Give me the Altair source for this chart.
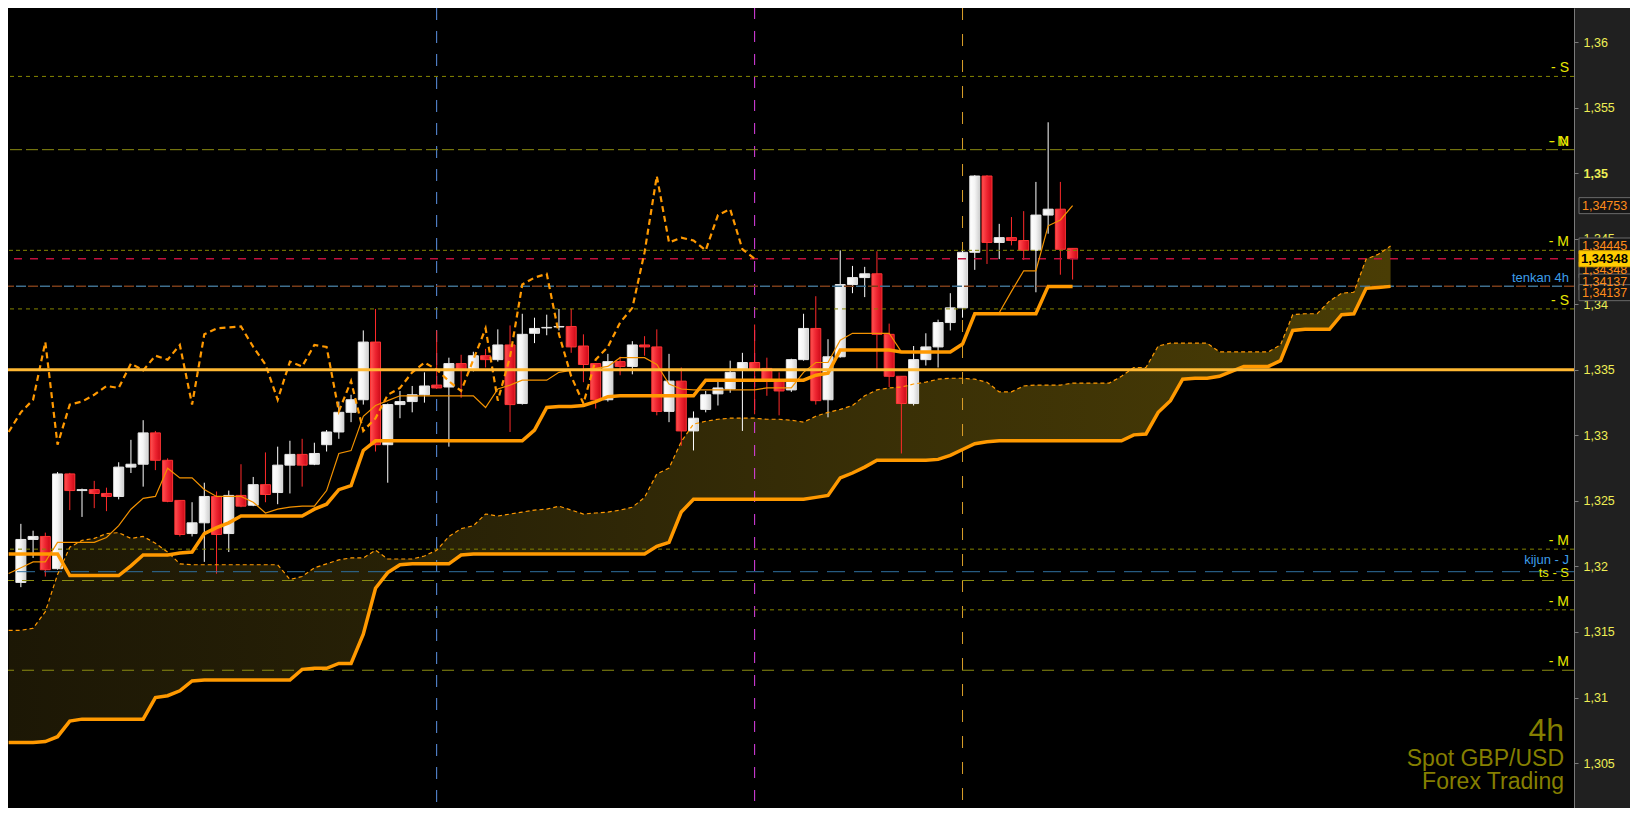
import altair as alt
import pandas as pd

W, H = 1566, 800
FONT = "Liberation Sans"

# ---------------- 4h GBP/USD candles (index 0..86) ----------------
candle_open = [1.31878, 1.32206, 1.32229, 1.31983, 1.32706, 1.32579, 1.32586, 1.32557, 1.32534, 1.32758,
               1.32780, 1.33019, 1.32810, 1.32504, 1.32251, 1.32333, 1.32534, 1.32251, 1.32542, 1.32467,
               1.32624, 1.32564, 1.32773, 1.32855, 1.32780, 1.32929, 1.33026, 1.33176, 1.33272, 1.33712,
               1.32929, 1.33235, 1.33258, 1.33310, 1.33384, 1.33369, 1.33548, 1.33496, 1.33608, 1.33578,
               1.33690, 1.33243, 1.33779, 1.33820, 1.33827, 1.33831, 1.33682, 1.33548, 1.33272, 1.33563,
               1.33526, 1.33690, 1.33675, 1.33183, 1.33414, 1.33034, 1.33198, 1.33317, 1.33354, 1.33503,
               1.33556, 1.33511, 1.33414, 1.33347, 1.33578, 1.33816, 1.33272, 1.33600, 1.34151, 1.34204,
               1.34233, 1.33771, 1.33451, 1.33243, 1.33578, 1.33675, 1.33861, 1.33973, 1.34397, 1.34979,
               1.34472, 1.34509, 1.34487, 1.34412, 1.34681, 1.34726, 1.34427]
candle_high = [1.32325, 1.32273, 1.32258, 1.32720, 1.32714, 1.32594, 1.32653, 1.32601, 1.32795, 1.32966,
               1.33116, 1.33034, 1.32825, 1.32504, 1.32490, 1.32639, 1.32572, 1.32579, 1.32780, 1.32683,
               1.32870, 1.32914, 1.32959, 1.32974, 1.32944, 1.33041, 1.33258, 1.33310, 1.33801, 1.33965,
               1.33243, 1.33339, 1.33377, 1.33481, 1.33801, 1.33593, 1.33615, 1.33638, 1.33660, 1.33809,
               1.33839, 1.33928, 1.33898, 1.33921, 1.33965, 1.33965, 1.33771, 1.33548, 1.33622, 1.33600,
               1.33719, 1.33757, 1.33809, 1.33622, 1.33518, 1.33183, 1.33339, 1.33414, 1.33570, 1.33630,
               1.33846, 1.33593, 1.33481, 1.33585, 1.33928, 1.34062, 1.33734, 1.34412, 1.34293, 1.34286,
               1.34405, 1.33853, 1.33451, 1.33682, 1.33779, 1.33883, 1.34085, 1.34412, 1.34986, 1.34986,
               1.34614, 1.34666, 1.34711, 1.34934, 1.35389, 1.34934, 1.34427]
candle_low = [1.31842, 1.32065, 1.31923, 1.31975, 1.32430, 1.32378, 1.32445, 1.32422, 1.32512, 1.32713,
              1.32609, 1.32735, 1.32490, 1.32229, 1.32229, 1.32035, 1.31945, 1.32110, 1.32452, 1.32460,
              1.32490, 1.32475, 1.32557, 1.32609, 1.32773, 1.32877, 1.32974, 1.33101, 1.33235, 1.32877,
              1.32639, 1.33131, 1.33176, 1.33250, 1.33354, 1.32914, 1.33287, 1.33488, 1.33518, 1.33563,
              1.33026, 1.33235, 1.33704, 1.33764, 1.33801, 1.33630, 1.33406, 1.33205, 1.33258, 1.33459,
              1.33466, 1.33608, 1.33153, 1.33101, 1.32921, 1.32885, 1.33176, 1.33228, 1.33325, 1.33034,
              1.33161, 1.33302, 1.33153, 1.33332, 1.33570, 1.33235, 1.33138, 1.33593, 1.34085, 1.34055,
              1.33503, 1.33369, 1.32862, 1.33228, 1.33533, 1.33518, 1.33801, 1.33898, 1.34263, 1.34308,
              1.34345, 1.34450, 1.34338, 1.34092, 1.34539, 1.34226, 1.34189]
candle_close = [1.32206, 1.32229, 1.31975, 1.32706, 1.32579, 1.32586, 1.32557, 1.32534, 1.32758, 1.32780,
                1.33019, 1.32810, 1.32497, 1.32244, 1.32333, 1.32534, 1.32244, 1.32542, 1.32460, 1.32624,
                1.32549, 1.32773, 1.32855, 1.32773, 1.32862, 1.33026, 1.33176, 1.33272, 1.33712, 1.32929,
                1.33235, 1.33258, 1.33310, 1.33377, 1.33362, 1.33548, 1.33496, 1.33608, 1.33578, 1.33690,
                1.33235, 1.33771, 1.33816, 1.33824, 1.33831, 1.33675, 1.33541, 1.33272, 1.33563, 1.33526,
                1.33690, 1.33675, 1.33183, 1.33414, 1.33034, 1.33131, 1.33310, 1.33362, 1.33481, 1.33556,
                1.33503, 1.33414, 1.33339, 1.33578, 1.33816, 1.33265, 1.33600, 1.34151, 1.34204, 1.34233,
                1.33771, 1.33451, 1.33243, 1.33578, 1.33675, 1.33861, 1.33973, 1.34397, 1.34979, 1.34472,
                1.34509, 1.34487, 1.34412, 1.34681, 1.34726, 1.34420, 1.34348]

# ---------------- Ichimoku lines (index -1..86) ----------------
tenkan = [1.31946, 1.31990, 1.32035, 1.32035, 1.32184, 1.32184, 1.32184, 1.32184, 1.32221, 1.32311,
          1.32437, 1.32520, 1.32534, 1.32750, 1.32676, 1.32676, 1.32587, 1.32534, 1.32534, 1.32534,
          1.32490, 1.32408, 1.32437, 1.32452, 1.32460, 1.32460, 1.32579, 1.32862, 1.32884, 1.33146,
          1.33228, 1.33265, 1.33302, 1.33302, 1.33302, 1.33302, 1.33302, 1.33302, 1.33302, 1.33213,
          1.33354, 1.33384, 1.33421, 1.33421, 1.33421, 1.33481, 1.33496, 1.33503, 1.33511, 1.33526,
          1.33593, 1.33593, 1.33593, 1.33541, 1.33392, 1.33354, 1.33347, 1.33347, 1.33347, 1.33347,
          1.33347, 1.33347, 1.33362, 1.33362, 1.33362, 1.33481, 1.33556, 1.33556, 1.33727, 1.33779,
          1.33779, 1.33779, 1.33779, 1.33637, 1.33637, 1.33637, 1.33637, 1.33637, 1.33697, 1.33928,
          1.33928, 1.33936, 1.34099, 1.34256, 1.34256, 1.34599, 1.34644, 1.34753]
kijun = ([1.32095] * 5 + [1.31931] * 5 + [1.32005, 1.32087, 1.32087, 1.32087, 1.32102, 1.32110,
         1.32251, 1.32296, 1.32333] + [1.32385] * 6 + [1.32437, 1.32475, 1.32586, 1.32616, 1.32885]
         + [1.32959] * 13 + [1.33041, 1.33213, 1.33220, 1.33220, 1.33228, 1.33258, 1.33295]
         + [1.33302] * 7 + [1.33421] * 9 + [1.33459, 1.33474] + [1.33652] * 5 + [1.33637] * 5
         + [1.33697] + [1.33928] * 6 + [1.34137] * 3)

# ---------------- Kumo (index -1..112) ----------------
span_a = ([1.31513, 1.31513, 1.31528, 1.31655, 1.31938, 1.32147, 1.32199, 1.32214, 1.32251, 1.32258,
           1.32214, 1.32229, 1.32177, 1.32110, 1.32020] + [1.32013] * 8 +
          [1.31901, 1.31923, 1.31990, 1.32020, 1.32050, 1.32065, 1.32065, 1.32124, 1.32057, 1.32057,
           1.32057, 1.32080, 1.32124, 1.32229, 1.32288, 1.32311, 1.32400, 1.32385, 1.32400, 1.32415,
           1.32430, 1.32437, 1.32460, 1.32430, 1.32400, 1.32408, 1.32415, 1.32430, 1.32452, 1.32527,
           1.32706, 1.32750, 1.32952, 1.33086, 1.33108, 1.33123, 1.33131, 1.33131, 1.33131, 1.33123,
           1.33123, 1.33116, 1.33101, 1.33146, 1.33176, 1.33198, 1.33228, 1.33302, 1.33347, 1.33362,
           1.33369, 1.33392, 1.33406, 1.33429, 1.33436, 1.33436, 1.33429, 1.33406, 1.33332, 1.33332,
           1.33377, 1.33384, 1.33384, 1.33384, 1.33399, 1.33399, 1.33399, 1.33399, 1.33451, 1.33518,
           1.33518, 1.33682, 1.33704, 1.33704, 1.33704, 1.33704, 1.33637, 1.33637, 1.33637, 1.33637,
           1.33637, 1.33690, 1.33921, 1.33928, 1.33928, 1.34025, 1.34085, 1.34092, 1.34345, 1.34382,
           1.34445])
span_b = ([1.30656, 1.30656, 1.30656, 1.30664, 1.30701, 1.30820] + [1.30835] * 6 +
          [1.30999, 1.31014, 1.31051, 1.31126] + [1.31133] * 8 +
          [1.31215, 1.31223, 1.31223, 1.31260, 1.31260, 1.31484, 1.31834, 1.31953, 1.32013]
          + [1.32020] * 4 + [1.32087] + [1.32095] * 15 + [1.32154, 1.32184, 1.32415]
          + [1.32512] * 10 + [1.32527, 1.32542, 1.32676, 1.32713, 1.32758] + [1.32810] * 5
          + [1.32817, 1.32847, 1.32892, 1.32936, 1.32951] + [1.32959] * 11
          + [1.33004, 1.33011, 1.33176, 1.33265, 1.33429, 1.33436, 1.33436, 1.33451, 1.33488,
             1.33526, 1.33526, 1.33526, 1.33570, 1.33801, 1.33809, 1.33809, 1.33809, 1.33921,
             1.33928, 1.34122, 1.34129, 1.34137])
chikou_shift = 26

# ---------------- levels / markers ----------------
level_price = [1.35739, 1.35180, 1.34412, 1.34348, 1.34137, 1.33965, 1.32132, 1.31960, 1.31893, 1.31669, 1.31208]
level_label_price = [1.35739, 1.35180, 1.35180, 1.34412, 1.33965, 1.32132, 1.31669, 1.31208]
level_label_text = ["- S", "- M", "- N", "- M", "- S", "- M", "- M", "- M"]
round_level = [1.335]
vline_index = [34, 60, 77]
tick_values = [1.305, 1.31, 1.315, 1.32, 1.325, 1.33, 1.335, 1.34, 1.345, 1.35, 1.355, 1.36]
tag_price = [1.34753, 1.34445, 1.34263, 1.34170, 1.34089]
tag_text = ["1,34753", "1,34445", "1,34348", "1,34137", "1,34137"]
last_price = [1.34348]
last_text = ["1,34348"]
corner_text = ["4h", "Spot GBP/USD", "Forex Trading"]

# ---------------- frames ----------------
n = len(candle_open)
candles = pd.DataFrame({"i": list(range(n)), "open": candle_open, "high": candle_high,
                        "low": candle_low, "close": candle_close})
candles["bull"] = candles["close"] >= candles["open"]
lines = pd.DataFrame({"i": list(range(-1, n)), "tenkan": tenkan, "kijun": kijun})
kumo = pd.DataFrame({"i": list(range(-1, -1 + len(span_a))), "a": span_a, "b": span_b})
chikou = pd.DataFrame({"i": [k - chikou_shift for k in range(chikou_shift - 1, n)],
                       "c": candle_close[chikou_shift - 1:]})

x_scale = alt.Scale(domain=[-0.643, 126.59], nice=False, zero=False)
y_scale = alt.Scale(domain=[1.30157, 1.36261], nice=False, zero=False)
yax = alt.Axis(orient="right", values=tick_values, title=None, grid=False,
               labelExpr="replace(format(datum.value, '.3~f'), '.', ',')",
               labelColor="#eeee55", labelFont=FONT, labelFontSize=12.5,
               labelFontWeight={"condition": {"test": "abs(datum.value - 1.35) < 0.0001", "value": "bold"},
                                "value": "normal"},
               domainColor="#7a7a7a", tickColor="#7a7a7a", tickSize=4, labelPadding=5)


def xq(f):
    return alt.X(f, type="quantitative", scale=x_scale, axis=None)


def yq(f):
    return alt.Y(f, type="quantitative", scale=y_scale, axis=yax)


def grad(stops, vertical=False):
    return alt.LinearGradient(gradient="linear", x1=0, y1=0, x2=0 if vertical else 1, y2=1 if vertical else 0,
                              stops=[alt.GradientStop(offset=o, color=c) for o, c in stops])


layers = []

# cloud
layers.append(alt.Chart(kumo).mark_area(
    clip=True, fill=grad([(0, "#1c1705"), (0.35, "#2a2306"), (0.65, "#3a3006"), (1, "#4a3d05")])
).encode(x=xq("i"), y=yq("a"), y2="b"))

# vertical markers
for k, (col, dash) in zip(vline_index, [("#5d93e6", [12, 11]), ("#e040e8", [11, 12]), ("#dca02a", [12, 14])]):
    layers.append(alt.Chart(pd.DataFrame({"i": [k]})).mark_rule(color=col, strokeDash=dash, strokeWidth=1)
                  .encode(x=xq("i")))

# candles
bull = alt.datum.bull
layers.append(alt.Chart(candles).transform_filter(bull).mark_rule(color="#ffffff", strokeWidth=1)
              .encode(x=xq("i"), y=yq("low"), y2="high"))
layers.append(alt.Chart(candles).transform_filter(~bull).mark_rule(color="#ff2a2a", strokeWidth=1)
              .encode(x=xq("i"), y=yq("low"), y2="high"))
layers.append(alt.Chart(candles).transform_filter(bull).mark_bar(
    size=10, fill=grad([(0, "#ffffff"), (0.5, "#f4f4f4"), (1, "#cfcfcf")]), stroke="#e6e6e6", strokeWidth=1
).encode(x=xq("i"), y=yq("open"), y2="close"))
layers.append(alt.Chart(candles).transform_filter(~bull).mark_bar(
    size=10, fill=grad([(0, "#ff5252"), (0.5, "#ee2430"), (1, "#cc0a18")]), stroke="#ff3535", strokeWidth=1
).encode(x=xq("i"), y=yq("open"), y2="close"))

# level lines
level_styles = [("#858500", [4, 4], 1), ("#8c8c12", [12, 4], 1), ("#858500", [4, 3], 1),
                ("#c0103c", [8, 8], 1.5), ("#7a3c18", [10, 14], 1.5), ("#858500", [4, 4], 1),
                ("#858500", [4, 4], 1), ("#2f6f9f", [18, 9], 1), ("#8c8c12", [12, 8], 1.2),
                ("#858500", [4, 4], 1), ("#8c8c12", [12, 8], 1.2)]
for p, (col, dash, wd) in zip(level_price, level_styles):
    layers.append(alt.Chart(pd.DataFrame({"p": [p]})).mark_rule(color=col, strokeDash=dash, strokeWidth=wd)
                  .encode(y=yq("p")))
layers.append(alt.Chart(pd.DataFrame({"p": [level_price[4]]})).mark_rule(
    color="#3f6f8e", strokeDash=[10, 14], strokeDashOffset=12, strokeWidth=1.5).encode(y=yq("p")))

# ichimoku lines
layers.append(alt.Chart(kumo).mark_line(clip=True, color="#ff9900", strokeWidth=1.2, strokeDash=[4, 3])
              .encode(x=xq("i"), y=yq("a")))
layers.append(alt.Chart(kumo).mark_line(clip=True, color="#ff9900", strokeWidth=3.5)
              .encode(x=xq("i"), y=yq("b")))
layers.append(alt.Chart(chikou).mark_line(clip=True, color="#ff9900", strokeWidth=2.2, strokeDash=[6, 4])
              .encode(x=xq("i"), y=yq("c")))
layers.append(alt.Chart(lines).mark_line(clip=True, color="#f39200", strokeWidth=1.2)
              .encode(x=xq("i"), y=yq("tenkan")))
layers.append(alt.Chart(lines).mark_line(clip=True, color="#ff9900", strokeWidth=3.5)
              .encode(x=xq("i"), y=yq("kijun")))

# round level
layers.append(alt.Chart(pd.DataFrame({"p": round_level})).mark_rule(color="#ffb833", strokeWidth=3)
              .encode(y=yq("p")))

# level labels
layers.append(alt.Chart(pd.DataFrame({"p": level_label_price, "t": level_label_text})).mark_text(
    align="right", baseline="alphabetic", dy=-4, font=FONT, fontSize=14, color="#e8e800"
).encode(y=yq("p"), x=alt.value(W - 5), text="t"))
layers.append(alt.Chart(pd.DataFrame({"p": [level_price[4]], "t": ["tenkan 4h"]})).mark_text(
    align="right", baseline="alphabetic", dy=-4, font=FONT, fontSize=13, color="#3d9ee8"
).encode(y=yq("p"), x=alt.value(W - 5), text="t"))
layers.append(alt.Chart(pd.DataFrame({"p": [level_price[7]], "t": ["kijun - J"]})).mark_text(
    align="right", baseline="alphabetic", dy=-8, font=FONT, fontSize=13, color="#3d9ee8"
).encode(y=yq("p"), x=alt.value(W - 5), text="t"))
layers.append(alt.Chart(pd.DataFrame({"p": [level_price[8]], "t": ["ts - S"]})).mark_text(
    align="right", baseline="alphabetic", dy=-3, font=FONT, fontSize=13, color="#e8e800"
).encode(y=yq("p"), x=alt.value(W - 5), text="t"))

# corner caption
for t, yy, fs in zip(corner_text, [733, 758, 781], [32, 23, 23]):
    layers.append(alt.Chart(pd.DataFrame({"t": [t]})).mark_text(
        align="right", baseline="alphabetic", font=FONT, fontSize=fs, color="#857f00"
    ).encode(x=alt.value(W - 10), y=alt.value(yy), text="t"))

# price tags on the axis
box = "M-1,-0.25L1,-0.25L1,0.25L-1,0.25Z"
tags = pd.DataFrame({"p": tag_price, "t": tag_text})
layers.append(alt.Chart(tags).mark_point(
    shape=box, size=4096, filled=True, fill="#161616", stroke="#6a6a6a", strokeWidth=1, opacity=1
).encode(y=yq("p"), x=alt.value(W + 37)))
layers.append(alt.Chart(tags).mark_text(
    align="left", baseline="middle", font=FONT, fontSize=12.5, color="#ff8c1a"
).encode(y=yq("p"), x=alt.value(W + 8), text="t"))
last = pd.DataFrame({"p": last_price, "t": last_text})
layers.append(alt.Chart(last).mark_point(
    shape=box, size=4096, filled=True, fill="#ffcc00", stroke="#e0a800", strokeWidth=1, opacity=1
).encode(y=yq("p"), x=alt.value(W + 37)))
layers.append(alt.Chart(last).mark_text(
    align="left", baseline="middle", font=FONT, fontSize=13, fontWeight="bold", color="#000000"
).encode(y=yq("p"), x=alt.value(W + 7), text="t"))

chart = alt.layer(*layers).properties(
    width=W, height=H, background="#202020",
    padding={"left": 0, "top": 0, "right": 56, "bottom": 0},
    autosize=alt.AutoSizeParams(type="none"),
).configure_view(fill="#000000", stroke=None)

chart.save("out.html", embed_options={"renderer": "svg", "actions": False})
